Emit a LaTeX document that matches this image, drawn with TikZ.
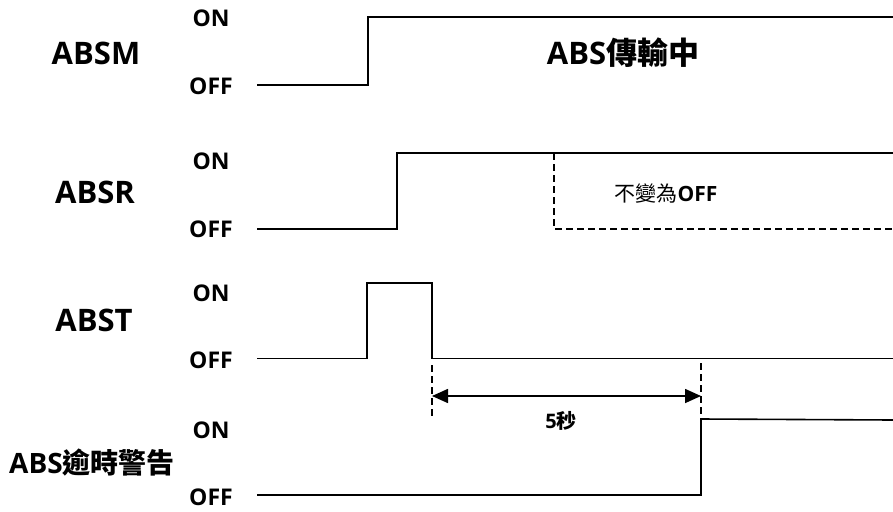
\documentclass[tikz,border=0pt]{standalone}
\usepackage{fontspec}
\setmainfont{Open Sans}
\newfontfamily\cjk{Noto Sans CJK TC}
\usetikzlibrary{arrows.meta}
\begin{document}
\begin{tikzpicture}[x=1pt,y=-1pt,
  wave/.style={line width=1.6pt, line join=miter},
  dsh/.style={line width=1.6pt, dash pattern=on 7pt off 4pt},
  lvl/.style={font=\fontsize{23}{25}\selectfont\bfseries, inner sep=0pt},
  sig/.style={font=\fontsize{31}{33}\selectfont\bfseries, inner sep=0pt},
  warn/.style={font=\fontsize{28}{30}\selectfont\bfseries, inner sep=0pt},
  small/.style={font=\fontsize{21}{23}\selectfont\bfseries, inner sep=0pt},
  tiny/.style={font=\fontsize{20}{22}\selectfont\bfseries, inner sep=0pt},
  dim/.style={line width=1.6pt, {Triangle[length=16pt,width=14pt]}-{Triangle[length=16pt,width=14pt]}}]
\useasboundingbox (0,0) rectangle (893,511);
% labels
\node[lvl] (mon) at (211,18) {ON};
\node[lvl] (moff) at (211,86) {OFF};
\node[sig] (mlab) at (96,53) {ABSM};
\node[lvl] (ron) at (211,161) {ON};
\node[lvl] (roff) at (211,229) {OFF};
\node[sig] (rlab) at (95,192) {ABSR};
\node[lvl] (ton) at (211,293) {ON};
\node[lvl] (toff) at (211,360) {OFF};
\node[sig] (tlab) at (94,320) {ABST};
\node[lvl] (won) at (211,430) {ON};
\node[lvl] (woff) at (211,497) {OFF};
\node[warn] (wlab) at (92,463) {ABS{\cjk 逾時警告}};
\node[sig] (trans) at (623,53) {ABS{\cjk 傳輸中}};
\node[small] (nochg) at (666,194) {{\cjk\mdseries 不變為}OFF};
\node[tiny] (five) at (561,421) {5{\cjk 秒}};
% ABSM
\draw[wave] (257,85) -- (368,85) -- (368,17) -- (893,17);
% ABSR
\draw[wave] (257,229) -- (397,229) -- (397,153) -- (893,153);
\draw[dsh] (554,153) -- (554,229) -- (893,229);
% ABST
\draw[wave] (257,358.5) -- (367,358.5) -- (367,283) -- (432,283) -- (432,358.5) -- (893,358.5);
% warning
\draw[wave] (257,495) -- (701,495) -- (701,419) -- (893,420);
% 5 s dimension
\coordinate (d1a) at (432,365);
\coordinate (d1b) at (432,416);
\coordinate (d2a) at (701,363);
\coordinate (d2b) at (701,417);
\draw[dsh] (d1a) -- (d1b);
\draw[dsh] (d2a) -- (d2b);
\coordinate (a1) at (432,396);
\coordinate (a2) at (701,396);
\draw[dim] (a1) -- (a2);
\end{tikzpicture}
\end{document}
